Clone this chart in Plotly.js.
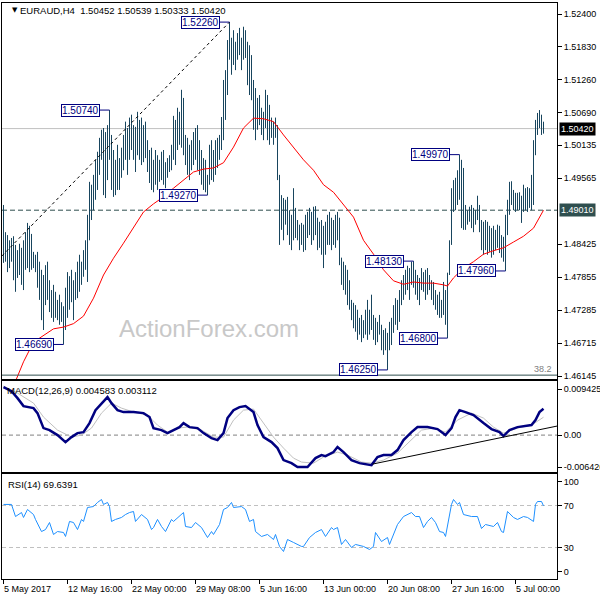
<!DOCTYPE html>
<html><head><meta charset="utf-8">
<script src="https://cdn.plot.ly/plotly-3.0.1.min.js"></script>
<style>html,body{margin:0;padding:0;background:#fff}</style>
</head><body><div id="chart" style="width:600px;height:600px"></div>
<script>
// ---------- DATA ----------
const highs = [
1.4910,1.4863,1.4858,1.4849,1.4853,1.4856,1.4841,1.4832,1.4843,1.4836,
1.4849,1.4863,1.4879,1.4874,1.4860,1.4829,1.4824,1.4829,1.4812,1.4798,
1.4789,1.4806,1.4812,1.4780,1.4763,1.4772,1.4760,1.4746,1.4755,1.4742,
1.4735,1.4767,1.4794,1.4787,1.4798,1.4780,1.4794,1.4812,1.4824,1.4812,
1.4832,1.4849,1.4893,1.4950,1.4945,1.4962,1.4988,1.5002,1.5026,1.5040,
1.5043,1.5036,1.5048,1.5074,1.5031,1.5005,1.4988,1.5014,1.4991,1.5009,
1.5031,1.5054,1.5043,1.5061,1.5066,1.5048,1.5045,1.5071,1.5057,1.5061,
1.5048,1.5054,1.5022,1.5005,1.5009,1.4988,1.5005,1.4996,1.4988,1.5002,
1.5005,1.4984,1.4991,1.4996,1.5014,1.5064,1.5057,1.5078,1.5071,1.5109,
1.5095,1.5031,1.5026,1.5014,1.5022,1.5036,1.5043,1.5048,1.5022,1.5005,
1.4991,1.4988,1.4962,1.5014,1.5022,1.5005,1.5022,1.5026,1.5031,1.5062,
1.5126,1.5143,1.5195,1.5226,1.5199,1.5212,1.5192,1.5207,1.5216,1.5199,
1.5218,1.5212,1.5192,1.5186,1.5169,1.5126,1.5112,1.5095,1.5100,1.5078,
1.5071,1.5109,1.5100,1.5083,1.5061,1.5054,1.5061,1.5048,1.4962,1.4927,
1.4922,1.4919,1.4924,1.4901,1.4893,1.4939,1.4905,1.4884,1.4876,1.4879,
1.4876,1.4893,1.4898,1.4905,1.4898,1.4907,1.4908,1.4888,1.4881,1.4884,
1.4874,1.4881,1.4893,1.4898,1.4888,1.4884,1.4893,1.4898,1.4888,1.4819,
1.4812,1.4806,1.4798,1.4780,1.4746,1.4741,1.4737,1.4729,1.4715,1.4720,
1.4711,1.4729,1.4746,1.4729,1.4755,1.4720,1.4715,1.4708,1.4720,1.4703,
1.4694,1.4697,1.4689,1.4708,1.4715,1.4737,1.4749,1.4746,1.4763,1.4780,
1.4789,1.4798,1.4805,1.4801,1.4812,1.4813,1.4798,1.4789,1.4784,1.4801,
1.4794,1.4798,1.4801,1.4789,1.4780,1.4777,1.4763,1.4755,1.4760,1.4746,
1.4777,1.4763,1.4793,1.4849,1.4939,1.4953,1.4957,1.4970,1.4997,1.4988,
1.4974,1.4910,1.4901,1.4907,1.4910,1.4905,1.4901,1.4926,1.4910,1.4884,
1.4881,1.4884,1.4881,1.4874,1.4870,1.4874,1.4867,1.4876,1.4874,1.4858,
1.4855,1.4893,1.4919,1.4950,1.4951,1.4936,1.4931,1.4931,1.4932,1.4926,
1.4945,1.4939,1.4941,1.4939,1.4962,1.5022,1.5057,1.5069,1.5074,1.5066,
1.50539];
const lows = [
1.4810,1.4812,1.4794,1.4801,1.4812,1.4780,1.4760,1.4784,1.4789,1.4772,
1.4763,1.4798,1.4801,1.4794,1.4798,1.4801,1.4794,1.4767,1.4746,1.4711,
1.4694,1.4737,1.4746,1.4725,1.4715,1.4708,1.4715,1.4711,1.4703,1.4708,
1.4669,1.4694,1.4715,1.4729,1.4742,1.4711,1.4746,1.4749,1.4760,1.4772,
1.4786,1.4798,1.4777,1.4849,1.4884,1.4901,1.4919,1.4936,1.4962,1.4988,
1.4927,1.4922,1.4953,1.4988,1.4936,1.4924,1.4927,1.4936,1.4936,1.4957,
1.4970,1.4988,1.4962,1.4988,1.5005,1.4988,1.4967,1.4996,1.4988,1.4979,
1.4984,1.4991,1.4967,1.4948,1.4936,1.4932,1.4945,1.4936,1.4950,1.4953,
1.4945,1.4939,1.4957,1.4967,1.4970,1.4988,1.4979,1.5005,1.5014,1.5009,
1.4996,1.4979,1.4962,1.4953,1.4970,1.4979,1.4988,1.4970,1.4962,1.4945,
1.4936,1.4932,1.4927,1.4945,1.4953,1.4950,1.4962,1.4974,1.4988,1.5005,
1.5022,1.5057,1.5100,1.5161,1.5135,1.5152,1.5143,1.5161,1.5169,1.5143,
1.5161,1.5164,1.5117,1.5100,1.5091,1.5040,1.5022,1.5040,1.5048,1.5031,
1.5022,1.5043,1.5022,1.5014,1.5026,1.5014,1.5026,1.4953,1.4841,1.4867,
1.4849,1.4876,1.4858,1.4841,1.4832,1.4849,1.4853,1.4849,1.4832,1.4841,
1.4829,1.4832,1.4853,1.4858,1.4841,1.4849,1.4858,1.4832,1.4836,1.4824,
1.4801,1.4824,1.4841,1.4841,1.4832,1.4841,1.4836,1.4849,1.4806,1.4772,
1.4763,1.4755,1.4737,1.4729,1.4711,1.4697,1.4691,1.4677,1.4686,1.4673,
1.4680,1.4686,1.4677,1.4686,1.4694,1.4677,1.4668,1.4673,1.4686,1.4659,
1.4651,1.4659,1.4625,1.4659,1.4668,1.4689,1.4703,1.4694,1.4708,1.4737,
1.4746,1.4755,1.4763,1.4746,1.4772,1.4767,1.4755,1.4746,1.4737,1.4763,
1.4760,1.4746,1.4755,1.4763,1.4746,1.4737,1.4729,1.4720,1.4715,1.4715,
1.4720,1.4703,1.4680,1.4789,1.4841,1.4898,1.4901,1.4910,1.4919,1.4870,
1.4867,1.4867,1.4876,1.4881,1.4870,1.4863,1.4876,1.4884,1.4863,1.4832,
1.4824,1.4832,1.4824,1.4829,1.4819,1.4824,1.4832,1.4836,1.4827,1.4819,
1.4812,1.4796,1.4858,1.4893,1.4910,1.4901,1.4898,1.4901,1.4901,1.4879,
1.4898,1.4901,1.4898,1.4905,1.4901,1.4910,1.4996,1.5031,1.5043,1.5031,
1.50333];

const maIdx = [5,10,15,20,25,30,35,40,45,50,55,60,65,70,75,80,85,90,95,100,105,110,115,120,125,130,135,140,145,150,155,160,165,170,175,180,185,190,195,200,205,210,215,220,222,225,230,235,240,245,250,255,260,265,270];
const maVal = [1.4597,1.4639,1.4673,1.4685,1.4696,1.4699,1.4705,1.4718,1.4749,1.4789,1.4818,1.4844,1.4872,1.4898,1.4912,1.4924,1.4939,1.4953,1.4967,1.4972,1.4974,1.4983,1.5010,1.5043,1.5060,1.5059,1.5054,1.5031,1.5009,1.4988,1.4970,1.4945,1.4932,1.4910,1.4889,1.4849,1.4825,1.4798,1.4779,1.4773,1.4777,1.4775,1.4775,1.4772,1.4770,1.4784,1.4801,1.4812,1.4825,1.4831,1.4836,1.4846,1.4856,1.4870,1.4901];

const macdIdx = [0,4,7,10,15,17,20,23,27,31,34,37,40,43,46,49,52,54,57,60,65,70,73,75,79,82,85,88,90,93,97,100,104,107,110,112,115,118,121,125,127,130,134,137,140,144,147,152,156,159,161,165,167,170,174,178,184,187,190,194,197,200,204,207,212,217,221,224,226,228,231,235,240,244,248,250,253,257,264,266,268,270];
const macdVal = [0.00836,0.00766,0.00644,0.00505,0.00470,0.00383,0.00122,0.00087,0,-0.00122,-0.00035,0.00035,0.00052,0.00209,0.00435,0.00557,0.00662,0.00557,0.00435,0.00401,0.00401,0.00383,0.00314,0.00122,0.00087,0.00035,0.00087,0.00139,0.00209,0.00139,0.00122,0.00035,-0.00052,-0.00087,0.00035,0.00296,0.00435,0.00488,0.00505,0.00401,0.00174,-0.00035,-0.00122,-0.00226,-0.00435,-0.00488,-0.00557,-0.00557,-0.00401,-0.00348,-0.00366,-0.00296,-0.00209,-0.00296,-0.00435,-0.00488,-0.00523,-0.00383,-0.00348,-0.00348,-0.00261,-0.00087,0.00052,0.00139,0.00139,0.00105,0,0.00122,0.00314,0.00435,0.00401,0.00348,0.00209,0.00105,0.00052,-0.00017,0.00087,0.00139,0.00174,0.00261,0.00401,0.004583];

const sigIdx = [0,7,15,20,27,34,39,44,49,54,59,65,72,77,82,87,92,99,105,110,115,120,125,130,135,140,145,149,155,160,167,172,179,184,190,197,204,209,215,221,227,234,240,245,250,257,264,270];
const sigVal = [0.00854,0.00732,0.00557,0.00314,0.00087,-0.00035,0,0.00122,0.00383,0.00557,0.00470,0.00401,0.00348,0.00174,0.00052,0.00122,0.00139,0.00087,-0.00035,-0.00035,0.00261,0.00435,0.00453,0.00209,-0.00035,-0.00226,-0.00401,-0.00470,-0.00488,-0.00383,-0.00296,-0.00348,-0.00470,-0.00488,-0.00435,-0.00314,-0.00087,0.00087,0.00122,0.00052,0.00261,0.00383,0.00296,0.00139,0.00035,0.00122,0.00174,0.003112];

const rsiIdx = [0,4,6,9,10,12,15,16,19,21,23,25,27,30,31,33,35,37,39,40,42,45,47,49,50,52,53,54,56,59,61,63,65,66,69,72,74,75,77,79,81,84,85,88,90,91,94,96,99,102,104,105,108,110,112,114,115,119,121,123,125,126,129,132,135,136,138,140,142,145,149,150,153,156,159,161,164,165,167,169,171,174,176,180,183,185,186,189,192,193,195,197,200,204,206,208,210,212,214,216,218,220,221,224,225,227,228,230,234,237,239,241,245,247,249,250,252,255,257,260,262,265,266,267,269,270];
const rsiVal = [71.0,71.0,59.5,63.3,58.6,66.2,61.4,56.7,45.2,47.1,53.8,42.4,45.2,44.3,40.5,54.8,53.8,47.1,56.7,54.8,68.1,69.0,72.9,75.7,71.0,72.9,69.0,54.8,56.7,58.6,61.4,63.3,64.3,54.8,61.4,56.7,47.1,49.0,56.7,50.0,45.2,56.7,54.8,59.5,63.3,50.0,49.0,53.8,49.0,39.5,45.2,42.4,51.9,66.2,68.1,72.9,68.1,69.0,66.2,54.8,56.7,45.2,40.5,42.4,37.6,42.4,31.0,26.2,37.6,34.8,31.0,31.0,39.5,44.3,47.1,40.5,49.0,47.1,49.0,32.9,37.6,30.0,32.9,31.0,28.1,31.0,44.3,35.7,39.5,32.9,42.4,51.9,59.5,63.3,59.5,59.5,49.0,54.8,58.6,53.8,45.2,44.3,40.5,71.0,75.7,71.0,72.9,61.4,59.5,59.5,48.1,51.9,50.0,53.8,45.2,44.3,64.3,58.6,56.7,59.5,58.6,54.8,71.0,73.8,73.8,69.6391];

const timeTickIdx = [0,32,64,96,128,160,192,224,256];
const timeTickText = ['5 May 2017','12 May 16:00','22 May 00:00','29 May 08:00','5 Jun 16:00','13 Jun 00:00','20 Jun 08:00','27 Jun 16:00','5 Jul 00:00'];
const priceTickVals = [1.524,1.5183,1.5126,1.5069,1.50135,1.49565,1.48425,1.47855,1.47285,1.46715,1.46145];
const priceTickText = ['1.52400','1.51830','1.51260','1.50690','1.50135','1.49565','1.48425','1.47855','1.47285','1.46715','1.46145'];
const macdTickText = ['0.009425','0.00','-0.006426'];
const rsiTickText = ['100','70','30','0'];

const swingIdx = [113,53,102,30,192,222,205,251,228];
const swingText = ['1.52260','1.50740','1.49270','1.46690','1.46250','1.46800','1.48130','1.47960','1.49970'];

const lastPrice = 1.5042, maLevel = 1.4901, fib382 = 1.4616;
const fibStart = [-0.75, 1.4822], fibEnd = [113, 1.5226];
const macdTrendStart = [184.5, -0.00505], macdTrendEnd = [276.75, 0.00157];
const header = 'EURAUD,H4  1.50452 1.50539 1.50333 1.50420';

// ---------- BUILD ----------
const FONT = 'Liberation Sans, Arial, sans-serif';
const px = x => (x - 2) / 555;      // pixel -> paper x
const py = y => (579 - y) / 576;    // pixel -> paper y

const bx = [], by = [];
highs.forEach((h, i) => { bx.push(i, i, null); by.push(lows[i], h, null); });

const traces = [
  {x: bx, y: by, type: 'scatter', mode: 'lines', xaxis: 'x', yaxis: 'y',
   line: {color: '#18455e', width: 1}, hoverinfo: 'skip'},
  {x: maIdx, y: maVal, type: 'scatter', mode: 'lines', xaxis: 'x', yaxis: 'y',
   line: {color: '#ff0000', width: 1}},
  {x: sigIdx, y: sigVal, type: 'scatter', mode: 'lines', xaxis: 'x2', yaxis: 'y2',
   line: {color: '#c0c0c0', width: 1}},
  {x: macdIdx, y: macdVal, type: 'scatter', mode: 'lines', xaxis: 'x2', yaxis: 'y2',
   line: {color: '#000080', width: 2.5}},
  {x: rsiIdx, y: rsiVal, type: 'scatter', mode: 'lines', xaxis: 'x3', yaxis: 'y3',
   line: {color: '#1e90ff', width: 1}}
];

const baseX = {showgrid: false, zeroline: false, showline: true, mirror: true,
  linecolor: '#000', linewidth: 1, showticklabels: false, ticks: ''};
const baseY = {showgrid: false, zeroline: false, showline: true, mirror: true,
  linecolor: '#000', linewidth: 1, side: 'right', ticks: 'outside', ticklen: 4,
  tickcolor: '#000', tickfont: {family: FONT, size: 9, color: '#000'}};

const shapes = [
  {type: 'line', xref: 'paper', yref: 'y', x0: 0, x1: 1, y0: lastPrice, y1: lastPrice, layer: 'below',
   line: {color: '#c0c0c0', width: 1}},
  {type: 'line', xref: 'paper', yref: 'y', x0: 0, x1: 1, y0: maLevel, y1: maLevel, layer: 'below',
   line: {color: '#2f4f4f', width: 1, dash: '5px,3px'}},
  {type: 'line', xref: 'paper', yref: 'y', x0: 0, x1: 1, y0: fib382, y1: fib382,
   line: {color: '#2f4f4f', width: 1}},
  {type: 'line', xref: 'x', yref: 'y', x0: fibStart[0], y0: fibStart[1], x1: fibEnd[0], y1: fibEnd[1],
   line: {color: '#000', width: 1, dash: '3px,3px'}},
  {type: 'line', xref: 'paper', yref: 'y2', x0: 0, x1: 1, y0: 0, y1: 0, layer: 'below',
   line: {color: '#808080', width: 1, dash: '4px,3px'}},
  {type: 'line', xref: 'x2', yref: 'y2', x0: macdTrendStart[0], y0: macdTrendStart[1],
   x1: macdTrendEnd[0], y1: macdTrendEnd[1], line: {color: '#000', width: 1}},
  {type: 'line', xref: 'paper', yref: 'y3', x0: 0, x1: 1, y0: 70, y1: 70, layer: 'below',
   line: {color: '#c0c0c0', width: 1, dash: '4px,3px'}},
  {type: 'line', xref: 'paper', yref: 'y3', x0: 0, x1: 1, y0: 30, y1: 30, layer: 'below',
   line: {color: '#c0c0c0', width: 1, dash: '4px,3px'}}
];

const annotations = [
  {text: '▼', xref: 'paper', yref: 'paper', x: px(10), y: py(10), yanchor: 'middle', showarrow: false,
   font: {family: 'DejaVu Sans', size: 7, color: '#000'}},
  {text: header, xref: 'paper', yref: 'paper', x: px(18), y: py(10.5), xanchor: 'left', yanchor: 'middle',
   showarrow: false, font: {family: FONT, size: 9.5, color: '#000'}},
  {text: 'ActionForex.com', xref: 'paper', yref: 'paper', x: px(209), y: py(328), yanchor: 'middle',
   showarrow: false, font: {family: FONT, size: 24, color: '#c8c8c8'}},
  {text: '38.2', xref: 'paper', yref: 'paper', x: px(554), y: py(369), xanchor: 'right', yanchor: 'middle',
   showarrow: false, font: {family: FONT, size: 9, color: '#808080'}},
  {text: 'MACD(12,26,9) 0.004583 0.003112', xref: 'paper', yref: 'paper', x: px(5), y: py(390),
   xanchor: 'left', yanchor: 'middle', showarrow: false, font: {family: FONT, size: 9.5, color: '#000'}},
  {text: 'RSI(14) 69.6391', xref: 'paper', yref: 'paper', x: px(6), y: py(484),
   xanchor: 'left', yanchor: 'middle', showarrow: false, font: {family: FONT, size: 9.5, color: '#000'}},
  {text: '1.50420', xref: 'paper', yref: 'y', x: px(559), y: lastPrice, xanchor: 'left', yanchor: 'middle',
   showarrow: false, bgcolor: '#000', borderpad: 1, font: {family: FONT, size: 9, color: '#fff'}},
  {text: '1.49010', xref: 'paper', yref: 'y', x: px(559), y: maLevel, xanchor: 'left', yanchor: 'middle',
   showarrow: false, bgcolor: '#2f4f4f', borderpad: 1, font: {family: FONT, size: 9, color: '#fff'}}
];
swingIdx.forEach((i, k) => annotations.push({
  text: swingText[k], xref: 'x', yref: 'y', x: i, y: parseFloat(swingText[k]),
  showarrow: true, arrowhead: 0, arrowwidth: 1, arrowcolor: '#000080', ax: -29, ay: 0,
  bgcolor: '#fff', bordercolor: '#000080', borderwidth: 1, borderpad: 0,
  font: {family: FONT, size: 10, color: '#000080'}
}));
timeTickIdx.forEach((i, k) => annotations.push({
  text: timeTickText[k], xref: 'x3', yref: 'paper', x: i, y: py(588.5), xanchor: 'left', yanchor: 'middle',
  xshift: -2, showarrow: false, font: {family: FONT, size: 9, color: '#000'}
}));

const layout = {
  width: 600, height: 600, margin: {l: 2, r: 43, t: 3, b: 21},
  paper_bgcolor: '#fff', plot_bgcolor: '#fff', showlegend: false, hovermode: false,
  xaxis: Object.assign({}, baseX, {anchor: 'y', range: [-0.75, 276.75]}),
  xaxis2: Object.assign({}, baseX, {anchor: 'y2', matches: 'x'}),
  xaxis3: Object.assign({}, baseX, {anchor: 'y3', matches: 'x',
    tickvals: timeTickIdx, ticks: 'outside', ticklen: 4, tickcolor: '#000', showticklabels: false}),
  yaxis: Object.assign({}, baseY, {anchor: 'x', domain: [0.3472, 1], range: [1.46093, 1.5259],
    tickvals: priceTickVals, ticktext: priceTickText}),
  yaxis2: Object.assign({}, baseY, {anchor: 'x2', domain: [0.1858, 0.34375], range: [-0.006426, 0.009425],
    tickvals: [0.00801, 0, -0.00557], ticktext: macdTickText}),
  yaxis3: Object.assign({}, baseY, {anchor: 'x3', domain: [0, 0.1823], range: [0, 100],
    tickvals: [92.4, 70, 30, 6.7], ticktext: rsiTickText}),
  shapes: shapes, annotations: annotations
};

Plotly.newPlot('chart', traces, layout, {staticPlot: true, displayModeBar: false});
</script></body></html>
